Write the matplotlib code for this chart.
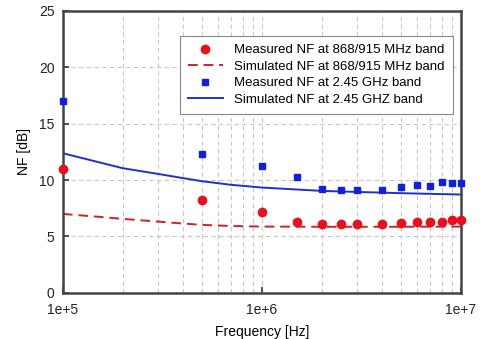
import matplotlib
matplotlib.use("Agg")
import matplotlib.pyplot as plt
from matplotlib.ticker import LogLocator, NullFormatter

plt.rcParams["font.family"] = ["Liberation Sans", "DejaVu Sans"]

meas_freq = [1e5, 5e5, 1e6, 1.5e6, 2e6, 2.5e6, 3e6, 4e6, 5e6, 6e6, 7e6, 8e6, 9e6, 1e7]
meas_868 = [11.0, 8.2, 7.2, 6.27, 6.09, 6.09, 6.1, 6.1, 6.18, 6.24, 6.24, 6.3, 6.5, 6.5]
meas_245 = [17.0, 12.3, 11.26, 10.25, 9.2, 9.16, 9.16, 9.1, 9.37, 9.6, 9.5, 9.84, 9.75, 9.75]

sim_freq = [1e5, 1.5e5, 2e5, 3e5, 4e5, 5e5, 7e5, 1e6, 2e6, 3e6, 5e6, 7e6, 1e7]
sim_868 = [7.0, 6.75, 6.56, 6.32, 6.15, 6.03, 5.93, 5.88, 5.86, 5.86, 5.86, 5.87, 5.88]
sim_245 = [12.38, 11.6, 11.05, 10.55, 10.18, 9.9, 9.58, 9.34, 9.04, 8.95, 8.84, 8.78, 8.72]

fig = plt.figure(figsize=(4.8, 3.39), dpi=100)
ax = fig.add_axes([0.131, 0.136, 0.829, 0.832])

ax.plot(meas_freq, meas_868, "o", color="#e8101a", markersize=6, linestyle="none",
        label="Measured NF at 868/915 MHz band", clip_on=False, zorder=5)
ax.plot(sim_freq, sim_868, "--", color="#d81e24", linewidth=1.4,
        dashes=(5, 3), label="Simulated NF at 868/915 MHz band")
ax.plot(meas_freq, meas_245, "s", color="#1020e0", markersize=5, linestyle="none",
        label="Measured NF at 2.45 GHz band", clip_on=False, zorder=5)
ax.plot(sim_freq, sim_245, "-", color="#2030d0", linewidth=1.4,
        label="Simulated NF at 2.45 GHZ band")

ax.set_xscale("log")
ax.set_xlim(1e5, 1e7)
ax.set_ylim(0, 25)
ax.set_yticks([0, 5, 10, 15, 20, 25])
ax.set_xticks([1e5, 1e6, 1e7])
ax.set_xticklabels(["1e+5", "1e+6", "1e+7"])
ax.xaxis.set_minor_locator(LogLocator(base=10, subs=range(2, 10)))
ax.xaxis.set_minor_formatter(NullFormatter())

ax.grid(True, which="both", axis="x", color="#c8c8c8", linestyle=(0, (4, 3)), linewidth=0.8)
ax.grid(True, which="major", axis="y", color="#c8c8c8", linestyle=(0, (4, 3)), linewidth=0.8)
ax.tick_params(axis="x", which="minor", length=0)
ax.tick_params(axis="both", which="major", direction="in", length=4, width=1.2,
               labelsize=10, colors="#333333", labelcolor="#222222")
ax.tick_params(axis="x", which="major", pad=7)
ax.tick_params(axis="y", which="major", pad=6)

for s in ax.spines.values():
    s.set_color("#444444")
    s.set_linewidth(1.8)

ax.set_xlabel("Frequency [Hz]", fontsize=10, labelpad=6)
ax.set_ylabel("NF [dB]", fontsize=10, labelpad=6)

leg = ax.legend(loc="upper right", bbox_to_anchor=(0.98, 0.91), fontsize=9.5,
                frameon=True, fancybox=False, edgecolor="#888888", framealpha=1,
                handlelength=2.6, handletextpad=0.9, borderpad=0.6,
                labelspacing=0.32, borderaxespad=0)
leg.get_frame().set_linewidth(0.8)

fig.savefig("out.png", dpi=100)
